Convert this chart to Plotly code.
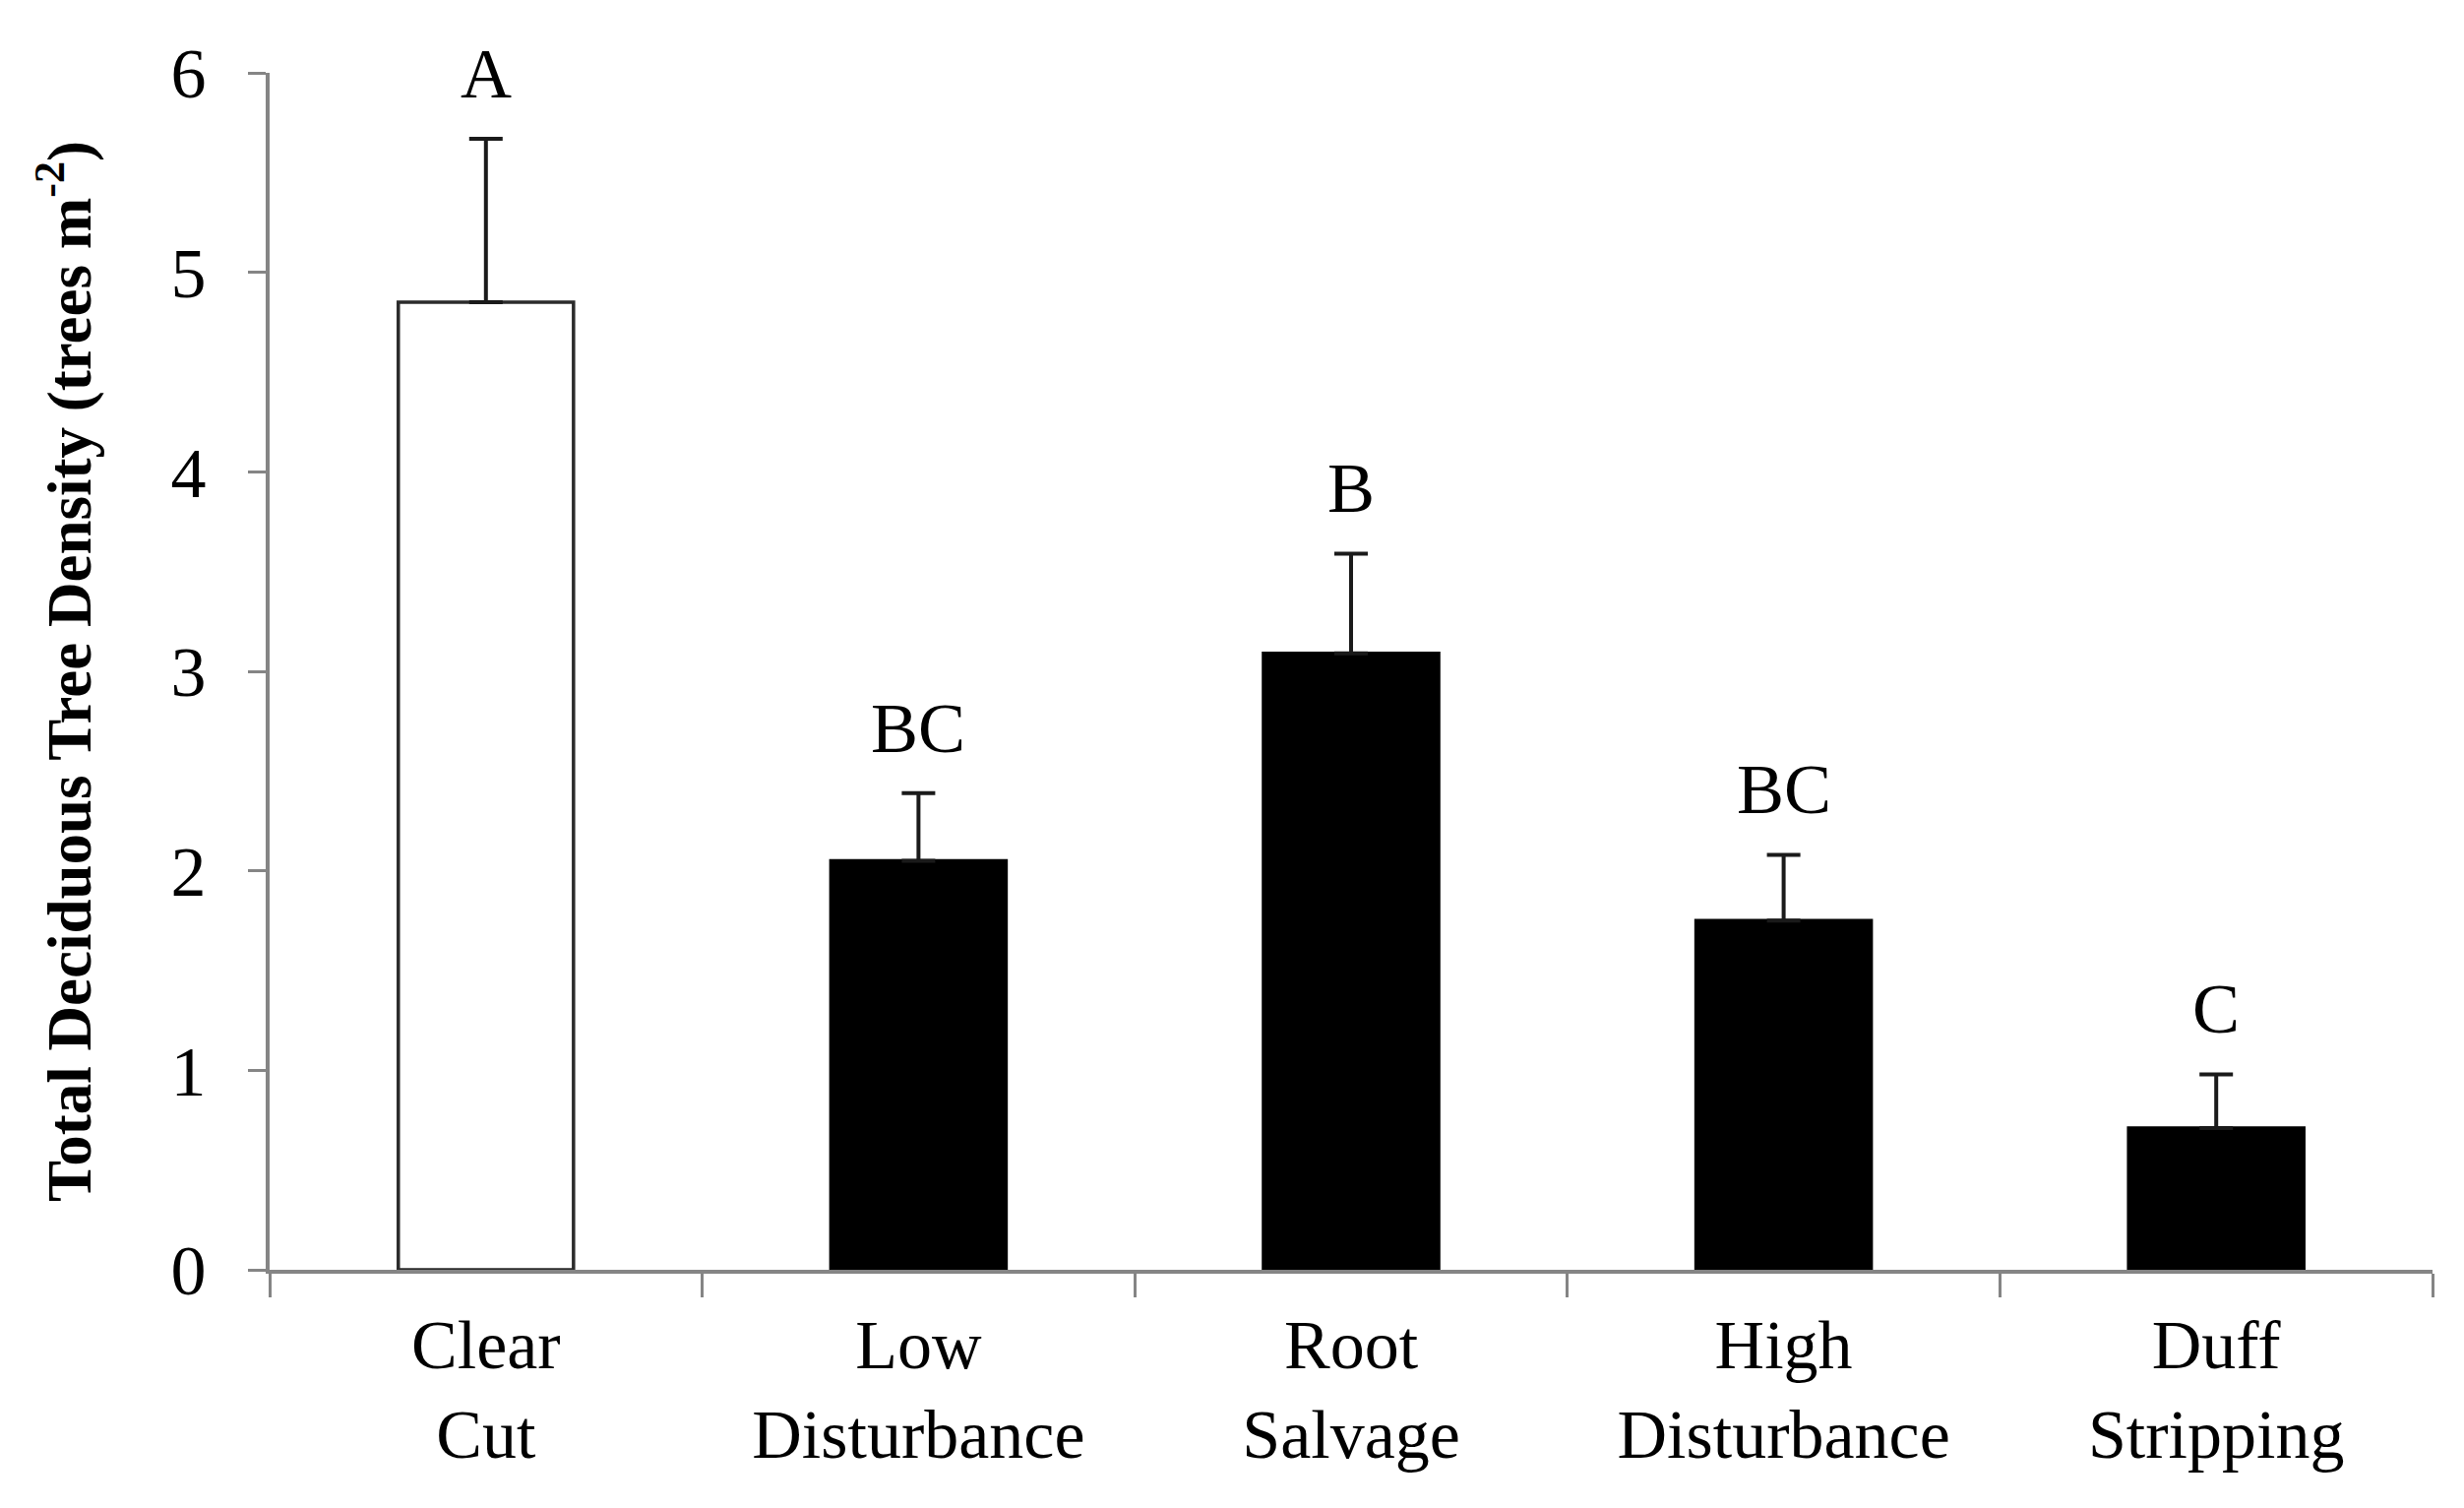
import plotly.graph_objects as go

# treatments and mean densities (trees m-2)
treatments = ["Clear<br>Cut", "Low<br>Disturbance", "Root<br>Salvage",
              "High<br>Disturbance", "Duff<br>Stripping"]
density = [4.85, 2.05, 3.09, 1.75, 0.71]
std_err = [0.82, 0.34, 0.50, 0.33, 0.27]
letters = ["A", "BC", "B", "BC", "C"]
y_ticks = [0, 1, 2, 3, 4, 5, 6]

serif = "Liberation Serif"
axis_grey = "#858585"

fig = go.Figure()
fig.add_trace(
    go.Bar(
        x=treatments,
        y=density,
        marker=dict(
            color=["white", "black", "black", "black", "black"],
            line=dict(color=["#2b2b2b", "black", "black", "black", "black"], width=3.5),
        ),
        error_y=dict(
            type="data",
            symmetric=False,
            array=std_err,
            arrayminus=[0] * len(std_err),
            color="#1a1a1a",
            thickness=4,
            width=17,
        ),
        showlegend=False,
    )
)

# significance letters above each error bar
for t, d, s, lab in zip(treatments, density, std_err, letters):
    fig.add_annotation(
        x=t, y=d + s, text=lab, showarrow=False,
        yanchor="bottom", yshift=24,
        font=dict(family=serif, size=72, color="black"),
    )

fig.update_layout(
    width=2504,
    height=1532,
    margin=dict(l=266, r=40, t=66, b=250),
    paper_bgcolor="white",
    plot_bgcolor="white",
    bargap=0.595,
    font=dict(family=serif, size=72, color="black"),
)
fig.update_xaxes(
    type="category",
    tickson="boundaries",
    ticks="outside",
    ticklen=24,
    tickwidth=3,
    tickcolor=axis_grey,
    showline=True,
    linewidth=4,
    linecolor=axis_grey,
    showgrid=False,
    ticklabelstandoff=12,
    tickfont=dict(family=serif, size=70, color="black"),
)
fig.update_yaxes(
    range=[0, 6],
    tickvals=y_ticks,
    ticks="outside",
    ticklen=18,
    tickwidth=3,
    tickcolor=axis_grey,
    showline=True,
    linewidth=4,
    linecolor=axis_grey,
    showgrid=False,
    zeroline=False,
    ticklabelstandoff=28,
    tickfont=dict(family=serif, size=72, color="black"),
    title=dict(
        text="<b>Total Deciduous Tree Density (trees m<sup>-2</sup>)</b>",
        font=dict(family=serif, size=63, color="black"),
        standoff=62,
    ),
)

fig.write_html("out.html")
